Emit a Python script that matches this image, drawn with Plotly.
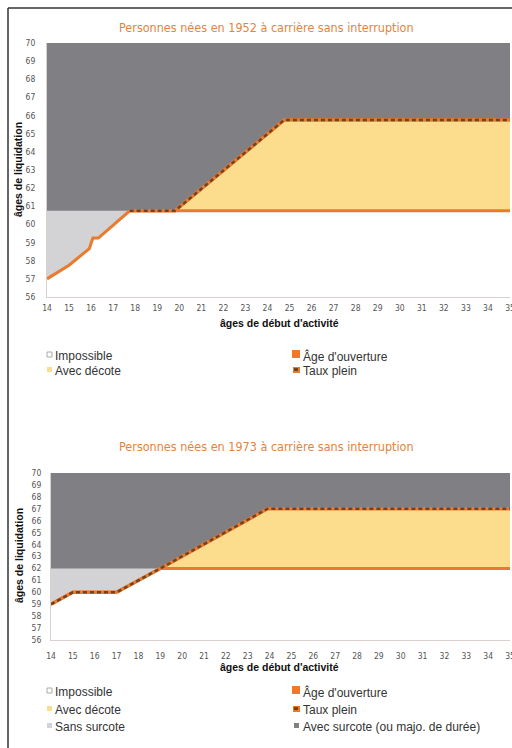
import plotly.graph_objects as go

# ---------------- data ----------------
y_range = [56, 70]
x_range = [14, 35]
x_ticks = list(range(14, 36))
y_ticks = list(range(56, 71))

# 1952 cohort
x_ouv_1952 = [14, 15, 15.92, 16.08, 16.33, 17.75, 35]
y_ouv_1952 = [57, 57.75, 58.67, 59.25, 59.25, 60.75, 60.75]
x_tp_1952 = [17.75, 19.8, 24.75, 35]
y_tp_1952 = [60.75, 60.75, 65.75, 65.75]

# 1973 cohort
x_ouv_1973 = [14, 15, 17, 19, 35]
y_ouv_1973 = [59, 60, 60, 62, 62]
x_tp_1973 = [14, 15, 17, 19, 23.9, 35]
y_tp_1973 = [59, 60, 60, 62, 67, 67]

title_1952 = "Personnes nées en 1952 à carrière sans interruption"
title_1973 = "Personnes nées en 1973 à carrière sans interruption"
y_title = "âges de liquidation"
x_title = "âges de début d'activité"

legend_left_1 = ["Impossible", "Avec décote"]
legend_right_1 = ["Âge d'ouverture", "Taux plein"]
legend_left_2 = ["Impossible", "Avec décote", "Sans surcote"]
legend_right_2 = ["Âge d'ouverture", "Taux plein", "Avec surcote (ou majo. de durée)"]

# ---------------- style ----------------
W, H = 512, 748
DARK = "#7f7f84"
LIGHT = "#d3d3d5"
YELLOW = "#fcdc8d"
ORANGE = "#ea7a2e"
BROWN = "#6e4326"
TITLE_C = "#e3843d"


def px(x):
    return x / W


def py(y):
    return 1 - y / H


fig = go.Figure()


def add_chart(xa, ya, x_ouv, y_ouv, x_tp, y_tp):
    cap = y_ouv[-1]
    lo = y_range[0]
    ux = [x_range[0]] + list(x_tp)
    uy = [cap] + [max(v, cap) for v in y_tp]
    fig.add_trace(go.Scatter(x=ux + [ux[-1], ux[0]], y=uy + [lo, lo], fill="toself",
                             fillcolor=LIGHT, mode="none", xaxis=xa, yaxis=ya,
                             hoverinfo="skip", showlegend=False))
    fig.add_trace(go.Scatter(x=list(x_tp) + [x_tp[-1], x_tp[0]], y=list(y_tp) + [lo, lo],
                             fill="toself", fillcolor=YELLOW, mode="none", xaxis=xa, yaxis=ya,
                             hoverinfo="skip", showlegend=False))
    fig.add_trace(go.Scatter(x=list(x_ouv) + [x_ouv[-1], x_ouv[0]], y=list(y_ouv) + [lo, lo],
                             fill="toself", fillcolor="white", mode="none", xaxis=xa, yaxis=ya,
                             hoverinfo="skip", showlegend=False))
    fig.add_trace(go.Scatter(x=x_ouv, y=y_ouv, mode="lines", line=dict(color=ORANGE, width=3),
                             xaxis=xa, yaxis=ya, hoverinfo="skip", showlegend=False))
    fig.add_trace(go.Scatter(x=x_tp, y=y_tp, mode="lines", line=dict(color=ORANGE, width=3.5),
                             xaxis=xa, yaxis=ya, hoverinfo="skip", showlegend=False))
    fig.add_trace(go.Scatter(x=x_tp, y=y_tp, mode="lines",
                             line=dict(color=BROWN, width=2.5, dash="4px,3px"),
                             xaxis=xa, yaxis=ya, hoverinfo="skip", showlegend=False))


add_chart("x", "y", x_ouv_1952, y_ouv_1952, x_tp_1952, y_tp_1952)
add_chart("x2", "y2", x_ouv_1973, y_ouv_1973, x_tp_1973, y_tp_1973)

tickfont = dict(family="DejaVu Sans Condensed, Liberation Sans", size=8.5, color="#555555")
axis_common = dict(showgrid=False, zeroline=False, showline=True, automargin=False,
                   linecolor="#d8d0cc", linewidth=1, ticks="outside",
                   tickcolor="rgba(0,0,0,0)", tickfont=tickfont, fixedrange=True,
                   tickmode="array", ticklabeloverflow="allow")

fig.update_layout(
    template="none",
    width=W, height=H,
    margin=dict(l=0, r=0, t=0, b=0),
    paper_bgcolor="white",
    plot_bgcolor=DARK,
    xaxis=dict(axis_common, range=x_range, tickvals=x_ticks, ticklen=3,
               domain=[px(47), px(510)], anchor="y"),
    yaxis=dict(axis_common, range=y_range, tickvals=y_ticks, ticklen=9,
               domain=[py(297), py(43)], anchor="x"),
    xaxis2=dict(axis_common, range=x_range, tickvals=x_ticks, ticklen=8,
                domain=[px(51), px(510)], anchor="y2"),
    yaxis2=dict(axis_common, range=y_range, tickvals=y_ticks, ticklen=7,
                domain=[py(640), py(473)], anchor="x2"),
)

ann = []
title_font = dict(family="DejaVu Sans Condensed, Liberation Sans", size=12.5, color=TITLE_C)
axt_font = dict(family="Liberation Sans, Arial", size=10.5, color="#111111")
leg_font = dict(family="Liberation Sans, Arial", size=12, color="#333333")


def text(x, y, s, font, xanchor="center", textangle=0):
    ann.append(dict(x=px(x), y=py(y), xref="paper", yref="paper", text=s, showarrow=False,
                    font=font, xanchor=xanchor, yanchor="middle", textangle=textangle))


text(266, 27, title_1952, title_font)
text(266, 447, title_1973, title_font)
text(18, 170, "<b>" + y_title + "</b>", axt_font, textangle=-90)
text(19, 556, "<b>" + y_title + "</b>", axt_font, textangle=-90)
text(279, 323, "<b>" + x_title + "</b>", axt_font)
text(279, 667, "<b>" + x_title + "</b>", axt_font)

shapes = []


def box(x0, y0, x1, y1, fill, line=None):
    shapes.append(dict(type="rect", xref="paper", yref="paper", x0=px(x0), x1=px(x1),
                       y0=py(y1), y1=py(y0), fillcolor=fill,
                       line=dict(color=line or fill, width=1 if line else 0)))


left_markers = {"Impossible": ("white", "#aaaaaa"), "Avec décote": (YELLOW, None),
                "Sans surcote": (LIGHT, None)}


def legend(rows_y, left, right):
    for yy, lab in zip(rows_y, left):
        fill, ln = left_markers[lab]
        box(47, yy - 4, 52, yy + 1, fill, ln)
        text(53, yy, lab, leg_font, xanchor="left")
    for yy, lab in zip(rows_y, right):
        if lab.startswith("Âge"):
            box(292, yy - 6, 300, yy + 2, ORANGE)
        elif lab.startswith("Taux"):
            box(293, yy - 4, 300, yy + 2, ORANGE)
            box(294, yy - 3, 298, yy, BROWN)
        else:
            box(294, yy - 4, 299, yy + 1, DARK)
        text(301, yy, lab, leg_font, xanchor="left")


legend([356, 371], legend_left_1, legend_right_1)
legend([692, 710, 727], legend_left_2, legend_right_2)

shapes.append(dict(type="line", xref="paper", yref="paper", x0=px(8), x1=px(8), y0=py(8), y1=0,
                   line=dict(color="#333333", width=1.5)))
shapes.append(dict(type="line", xref="paper", yref="paper", x0=px(8), x1=1, y0=py(8), y1=py(8),
                   line=dict(color="#333333", width=1.5)))

fig.update_layout(annotations=ann, shapes=shapes)
fig.write_html("out.html", config={"displayModeBar": False},
               post_script="document.body.style.margin='0';document.body.style.overflow='hidden';")
